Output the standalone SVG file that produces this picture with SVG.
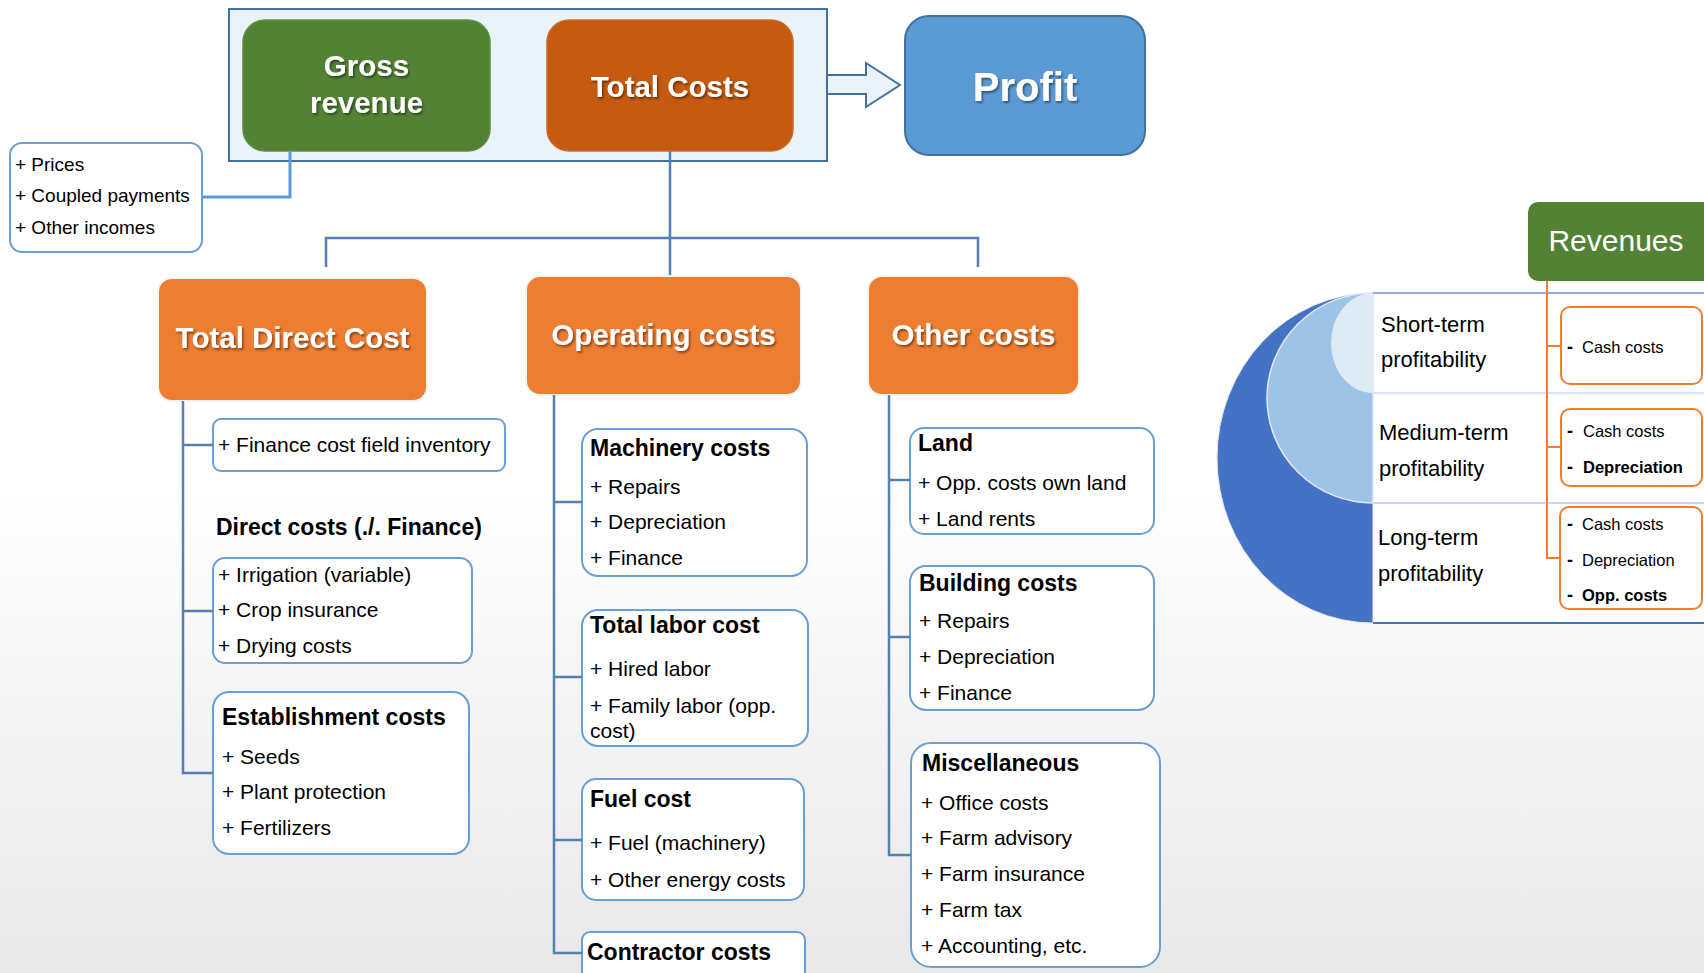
<svg xmlns="http://www.w3.org/2000/svg" width="1704" height="973" viewBox="0 0 1704 973">
<defs>
<linearGradient id="bg" x1="0" y1="0" x2="0" y2="1">
<stop offset="0" stop-color="#ffffff"/>
<stop offset="0.5" stop-color="#ffffff"/>
<stop offset="1" stop-color="#e8e8e8"/>
</linearGradient>
<filter id="sh" x="-10%" y="-20%" width="130%" height="150%">
<feDropShadow dx="1.5" dy="2" stdDeviation="1.2" flood-color="#000" flood-opacity="0.45"/>
</filter>
<style>
text{font-family:"Liberation Sans",Arial,sans-serif;fill:#000}
.big{font-weight:bold;fill:#fff;font-size:29.5px;text-anchor:middle;filter:url(#sh)}
.it{font-size:21px}
.tt{font-size:23px;font-weight:bold}
.rw{font-size:22px}
.sm{font-size:16.5px}
.smb{font-size:16.5px;font-weight:bold}
.ds{font-size:18px;font-weight:bold}
.box{fill:#fff;stroke:#6a9fd6;stroke-width:2}
.obox{fill:#fff;stroke:#ed7d31;stroke-width:2}
.org{fill:#ed7d31;stroke:#f3f3f3;stroke-width:2}
.ln{fill:none;stroke:#5580b4;stroke-width:2.5}
.oln{fill:none;stroke:#ed7d31;stroke-width:2}
</style>
</defs>
<rect x="0" y="0" width="1704" height="973" fill="url(#bg)"/>

<g id="container">
<rect x="229" y="9" width="598" height="152" fill="#eaf2fa" stroke="#41719c" stroke-width="2"/>
</g>
<g id="gross-revenue">
<rect x="243" y="20" width="247" height="131" rx="22" fill="#548235" stroke="#5f8f3e" stroke-width="1.5"/>
<text class="big" x="366.5" y="76" font-size="29">Gross</text>
<text class="big" x="366.5" y="113">revenue</text>
</g>
<g id="total-costs">
<rect x="547" y="20" width="246" height="131" rx="22" fill="#c55a11" stroke="#cf6a25" stroke-width="1.5"/>
<text class="big" x="670" y="97">Total Costs</text>
</g>
<g id="profit">
<rect x="905" y="16" width="240" height="139" rx="24" fill="#5b9bd5" stroke="#41719c" stroke-width="2"/>
<text class="big" x="1025" y="101" style="font-size:40px">Profit</text>
</g>
<g id="prices">
<rect x="10" y="143" width="192" height="109" rx="12" class="box"/>
<text x="15" y="171" style="font-size:19px">+ Prices</text>
<text x="15" y="202" style="font-size:19px">+ Coupled payments</text>
<text x="15" y="234" style="font-size:19px">+ Other incomes</text>
</g>

<g id="total-direct-cost">
<rect x="158" y="278" width="269" height="123" rx="14" class="org"/>
<text class="big" x="292.5" y="348">Total Direct Cost</text>
</g>
<g id="operating-costs">
<rect x="526" y="276" width="275" height="119" rx="14" class="org"/>
<text class="big" x="663.5" y="345">Operating costs</text>
</g>
<g id="other-costs">
<rect x="868" y="276" width="211" height="119" rx="14" class="org"/>
<text class="big" x="973.5" y="345">Other costs</text>
</g>

<g id="finance-field">
<rect x="213" y="419" width="292" height="52" rx="8" class="box"/>
<text class="it" x="218" y="452">+ Finance cost field inventory</text>
</g>
<g id="direct-costs">
<text class="tt" x="216" y="535">Direct costs (./. Finance)</text>
<rect x="213" y="558" width="259" height="105" rx="12" class="box"/>
<text class="it" x="218" y="582">+ Irrigation (variable)</text>
<text class="it" x="218" y="617">+ Crop insurance</text>
<text class="it" x="218" y="653">+ Drying costs</text>
</g>
<g id="establishment">
<rect x="213" y="692" width="256" height="162" rx="16" class="box"/>
<text class="tt" x="222" y="725">Establishment costs</text>
<text class="it" x="222" y="764">+ Seeds</text>
<text class="it" x="222" y="799">+ Plant protection</text>
<text class="it" x="222" y="835">+ Fertilizers</text>
</g>

<g id="machinery">
<rect x="582" y="429" width="225" height="147" rx="16" class="box"/>
<text class="tt" x="590" y="456">Machinery costs</text>
<text class="it" x="590" y="494">+ Repairs</text>
<text class="it" x="590" y="529">+ Depreciation</text>
<text class="it" x="590" y="565">+ Finance</text>
</g>
<g id="labor">
<rect x="582" y="610" width="226" height="136" rx="16" class="box"/>
<text class="tt" x="590" y="633">Total labor cost</text>
<text class="it" x="590" y="676">+ Hired labor</text>
<text class="it" x="590" y="713">+ Family labor (opp.</text>
<text class="it" x="590" y="738">cost)</text>
</g>
<g id="fuel">
<rect x="582" y="779" width="222" height="121" rx="14" class="box"/>
<text class="tt" x="590" y="807">Fuel cost</text>
<text class="it" x="590" y="850">+ Fuel (machinery)</text>
<text class="it" x="590" y="887">+ Other energy costs</text>
</g>
<g id="contractor">
<rect x="582" y="932" width="223" height="60" rx="8" class="box"/>
<text class="tt" x="587" y="960">Contractor costs</text>
</g>

<g id="land">
<rect x="910" y="428" width="244" height="106" rx="14" class="box"/>
<text class="tt" x="918" y="451">Land</text>
<text class="it" x="918" y="490">+ Opp. costs own land</text>
<text class="it" x="918" y="526">+ Land rents</text>
</g>
<g id="building">
<rect x="910" y="566" width="244" height="144" rx="16" class="box"/>
<text class="tt" x="919" y="591">Building costs</text>
<text class="it" x="919" y="628">+ Repairs</text>
<text class="it" x="919" y="664">+ Depreciation</text>
<text class="it" x="919" y="700">+ Finance</text>
</g>
<g id="misc">
<rect x="911" y="743" width="249" height="224" rx="20" class="box"/>
<text class="tt" x="922" y="771">Miscellaneous</text>
<text class="it" x="921" y="810">+ Office costs</text>
<text class="it" x="921" y="845">+ Farm advisory</text>
<text class="it" x="921" y="881">+ Farm insurance</text>
<text class="it" x="921" y="917">+ Farm tax</text>
<text class="it" x="921" y="953">+ Accounting, etc.</text>
</g>

<g id="profitability">
<rect x="1373" y="293" width="331" height="330" fill="#fff"/>
<path d="M1373 293 A156 165 0 0 0 1373 623 Z" fill="#4472c4" stroke="#e6e6e6" stroke-width="1"/>
<path d="M1373 293 A106 105 0 0 0 1373 503 Z" fill="#9dc3e6" stroke="#dfe9f5" stroke-width="1.5"/>
<path d="M1373 293 A42 50 0 0 0 1373 393 Z" fill="#deebf7"/>
<line x1="1373" y1="293" x2="1704" y2="293" stroke="#8faadc" stroke-width="2"/>
<line x1="1373" y1="393" x2="1704" y2="393" stroke="#dae3f3" stroke-width="2"/>
<line x1="1373" y1="503" x2="1704" y2="503" stroke="#c9d8ef" stroke-width="2"/>
<line x1="1373" y1="623" x2="1704" y2="623" stroke="#4472c4" stroke-width="2"/>
<text class="rw" x="1381" y="332">Short-term</text>
<text class="rw" x="1381" y="367">profitability</text>
<text class="rw" x="1379" y="440">Medium-term</text>
<text class="rw" x="1379" y="476">profitability</text>
<text class="rw" x="1378" y="545">Long-term</text>
<text class="rw" x="1378" y="581">profitability</text>
</g>
<g id="revenues">
<rect x="1528" y="202" width="190" height="79" rx="10" fill="#548235"/>
<text x="1616" y="251" text-anchor="middle" style="font-size:30px;fill:#fff">Revenues</text>
</g>

<g id="connectors">
<path class="ln" d="M670 151 V275 M326 267 V238 H978 V267"/>
<path d="M290 151 V197 H202" fill="none" stroke="#5b9bd5" stroke-width="3"/>
<path class="ln" d="M183 401 V773 H213 M183 445 H213 M183 611 H213"/>
<path class="ln" d="M554 395 V953 H582 M554 502 H582 M554 677 H582 M554 840 H582"/>
<path class="ln" d="M889 395 V855 H911 M889 480 H910 M889 637 H910"/>
<path class="oln" d="M1547 281 V558 H1560 M1547 346 H1561 M1547 447 H1561"/>
<polygon points="827,75 866,75 866,63 900,85 866,107 866,94 827,94" fill="#eaf2fa" stroke="#41719c" stroke-width="2"/>
</g>

<g id="short-box">
<rect x="1561" y="307" width="141" height="77" rx="9" class="obox"/>
<text class="ds" x="1567" y="353">-</text><text class="sm" x="1582" y="353">Cash costs</text>
</g>
<g id="medium-box">
<rect x="1561" y="409" width="141" height="77" rx="9" class="obox"/>
<text class="ds" x="1567" y="437">-</text><text class="sm" x="1583" y="437">Cash costs</text>
<text class="ds" x="1567" y="473">-</text><text class="smb" x="1583" y="473">Depreciation</text>
</g>
<g id="long-box">
<rect x="1560" y="507" width="142" height="102" rx="9" class="obox"/>
<text class="ds" x="1567" y="530">-</text><text class="sm" x="1582" y="530">Cash costs</text>
<text class="ds" x="1567" y="566">-</text><text class="sm" x="1582" y="566">Depreciation</text>
<text class="ds" x="1567" y="601">-</text><text class="smb" x="1582" y="601">Opp. costs</text>
</g>
</svg>
